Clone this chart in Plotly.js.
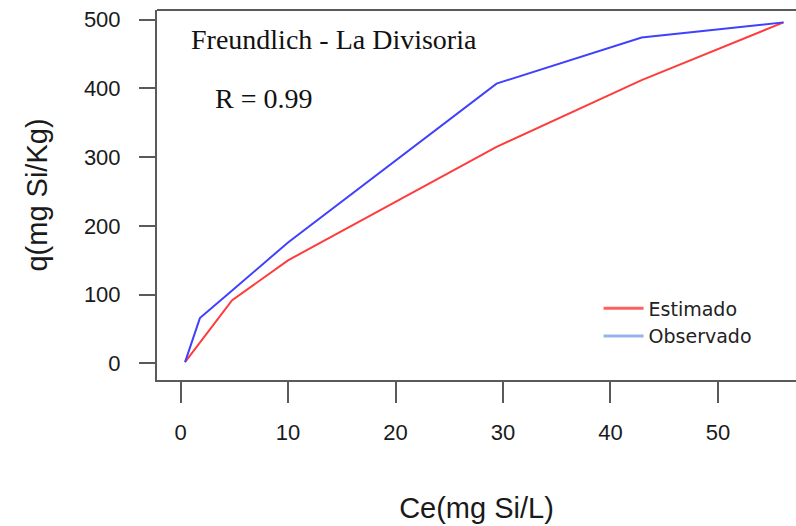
<!DOCTYPE html>
<html>
<head>
<meta charset="utf-8">
<script src="https://cdn.plot.ly/plotly-3.0.1.min.js"></script>
<style>html,body{margin:0;padding:0;background:#fff;}#chart{width:796px;height:526px;}</style>
</head>
<body>
<div id="chart"></div>
<script>
// Data
const ce = [0.42, 1.8, 4.8, 10, 29.4, 42.9, 56.1];           // Ce (mg Si/L)
const observado = [2, 66, 106, 176, 407, 474, 496];           // q observed (mg Si/Kg)
const estimado = [2, 30, 92, 150, 315, 412, 496];             // q Freundlich estimate
const seriesNames = ["Estimado", "Observado"];
const xTicks = [0, 10, 20, 30, 40, 50];
const yTicks = [0, 100, 200, 300, 400, 500];
const chartTitle = "Freundlich - La Divisoria";
const rLabel = "R = 0.99";

const lineRed = "rgb(255,60,60)";
const lineBlue = "rgb(64,64,255)";
const legRed = "rgb(255,95,95)";
const legBlue = "rgb(150,180,235)";

const traces = [
  {x: ce, y: estimado, type: "scatter", mode: "lines", name: seriesNames[0],
   line: {color: lineRed, width: 2}, showlegend: false, hoverinfo: "x+y"},
  {x: ce, y: observado, type: "scatter", mode: "lines", name: seriesNames[1],
   line: {color: lineBlue, width: 2}, showlegend: false, hoverinfo: "x+y"},
  // legend entries (styled as in the reference legend)
  {x: [null], y: [null], type: "scatter", mode: "lines", name: seriesNames[0],
   line: {color: legRed, width: 3}, hoverinfo: "skip"},
  {x: [null], y: [null], type: "scatter", mode: "lines", name: seriesNames[1],
   line: {color: legBlue, width: 3}, hoverinfo: "skip"}
];

const axisColor = "#5a5a5a";
const tickFont = {size: 22, color: "#1a1a1a", family: "Liberation Sans, Arial, sans-serif"};
const titleFont = {size: 29, color: "#1a1a1a", family: "Liberation Sans, Arial, sans-serif"};
const layout = {
  width: 796, height: 526,
  margin: {l: 157, r: 0, t: 10, b: 146, pad: 0},
  paper_bgcolor: "#ffffff", plot_bgcolor: "#ffffff",
  font: {family: "Liberation Sans, Arial, sans-serif", color: "#222"},
  showlegend: true,
  legend: {x: 0.691, y: 0.245, xanchor: "left", yanchor: "top",
           bgcolor: "rgba(0,0,0,0)", borderwidth: 0, itemwidth: 40,
           font: {family: "DejaVu Sans, sans-serif", size: 19, color: "#222"},
           tracegroupgap: 0},
  xaxis: {
    range: [-2.19, 57.26], tickvals: xTicks, ticktext: xTicks.map(String),
    showgrid: false, zeroline: false, showline: true, linecolor: axisColor, linewidth: 2,
    ticks: "outside", ticklen: 21, tickwidth: 2, tickcolor: axisColor,
    ticklabelstandoff: 11,
    tickfont: tickFont,
    title: {text: "Ce(mg Si/L)", font: titleFont, standoff: 53},
    fixedrange: true
  },
  yaxis: {
    range: [-24, 514], tickvals: yTicks, ticktext: yTicks.map(String),
    showgrid: false, zeroline: false, showline: true, linecolor: axisColor, linewidth: 2,
    ticks: "outside", ticklen: 16, tickwidth: 2, tickcolor: axisColor,
    ticklabelstandoff: 14,
    tickfont: tickFont,
    title: {text: "q(mg Si/Kg)", font: titleFont, standoff: 28},
    fixedrange: true
  },
  shapes: [
    {type: "line", xref: "paper", yref: "paper", x0: 0, x1: 1, y0: 1, y1: 1,
     line: {color: axisColor, width: 2}}
  ],
  annotations: [
    {text: chartTitle, xref: "paper", yref: "paper", x: 0.05, y: 0.919,
     xanchor: "left", yanchor: "middle", showarrow: false,
     font: {family: "Liberation Serif, Times New Roman, serif", size: 28, color: "#111"}},
    {text: rLabel, xref: "paper", yref: "paper", x: 0.088, y: 0.762,
     xanchor: "left", yanchor: "middle", showarrow: false,
     font: {family: "Liberation Serif, Times New Roman, serif", size: 28, color: "#111"}}
  ]
};

Plotly.newPlot("chart", traces, layout, {displayModeBar: false, staticPlot: true});
</script>
</body>
</html>
